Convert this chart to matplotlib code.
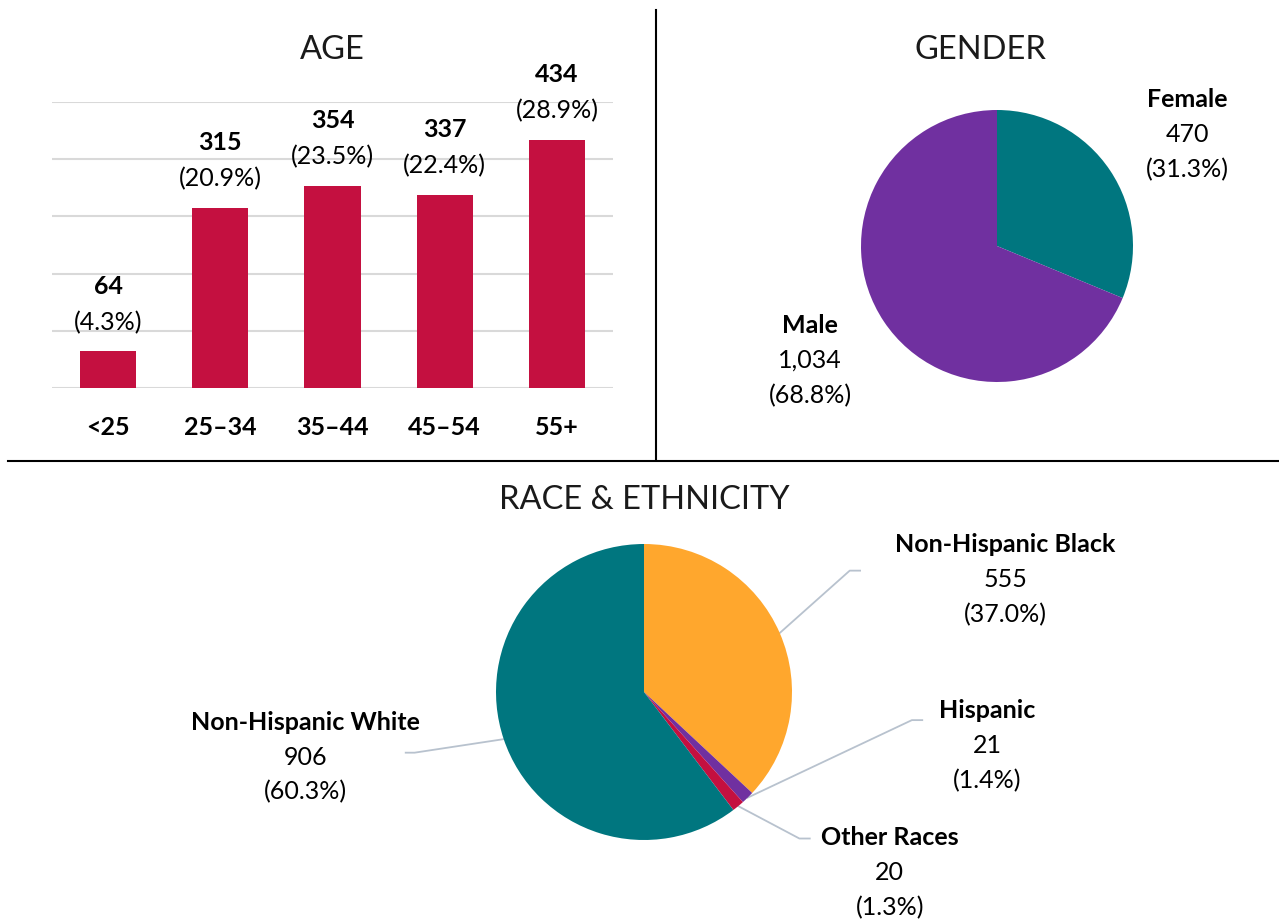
import numpy as np
import matplotlib
matplotlib.use("Agg")
import matplotlib.pyplot as plt
from matplotlib.lines import Line2D

plt.rcParams['font.family'] = ['Lato', 'DejaVu Sans']

# --- data ---
age_groups = ["<25", "25\u201334", "35\u201344", "45\u201354", "55+"]
age_counts = [64, 315, 354, 337, 434]
age_pcts = ["4.3%", "20.9%", "23.5%", "22.4%", "28.9%"]

gender_labels = ["Female", "Male"]
gender_counts = [470, 1034]
gender_pcts = ["31.3%", "68.8%"]

race_labels = ["Non-Hispanic Black", "Hispanic", "Other Races", "Non-Hispanic White"]
race_counts = [555, 21, 20, 906]
race_pcts = ["37.0%", "1.4%", "1.3%", "60.3%"]

CRIMSON = "#C41040"
TEAL = "#00767F"
PURPLE = "#7030A0"
ORANGE = "#FFA72D"
GRID = "#D9D9D9"
LEADER = "#B8C2CE"
FS = 18
W, H = 1279, 922


def px_axes(fig, x0, y0, x1, y1):
    # pixel box (top-left origin) -> axes
    return fig.add_axes([x0 / W, 1 - y1 / H, (x1 - x0) / W, (y1 - y0) / H])


def label3(ax, x, y, name, count, pct, step):
    ax.text(x, y + step, name, ha="center", va="center", fontsize=FS, fontweight="bold", clip_on=False)
    ax.text(x, y, count, ha="center", va="center", fontsize=FS, clip_on=False)
    ax.text(x, y - step, f"({pct})", ha="center", va="center", fontsize=FS, clip_on=False)


fig = plt.figure(figsize=(W / 100, H / 100), dpi=100)

# --- AGE bars ---
ax = px_axes(fig, 52, 102, 613, 388)
x = np.arange(len(age_groups))
ax.bar(x, age_counts, width=0.5, color=CRIMSON, zorder=3)
ax.set_ylim(0, 500)
ax.set_xlim(-0.5, len(age_groups) - 0.5)
ax.set_yticks(np.arange(0, 501, 100))
ax.yaxis.grid(True, color=GRID, lw=1.5, zorder=0)
ax.tick_params(axis="y", length=0, labelleft=False)
ax.tick_params(axis="x", length=0, pad=20)
ax.set_xticks(x)
ax.set_xticklabels(age_groups, fontsize=FS, fontweight="bold")
for s in ax.spines.values():
    s.set_visible(False)
for i, (v, p) in enumerate(zip(age_counts, age_pcts)):
    ax.annotate(f"({p})", (i, v), xytext=(0, 21), textcoords="offset points",
                ha="center", va="center", fontsize=FS)
    ax.annotate(f"{v}", (i, v), xytext=(0, 47), textcoords="offset points",
                ha="center", va="center", fontsize=FS, fontweight="bold")

# --- GENDER pie ---
r = 136
cx, cy = 997, 246
gx = px_axes(fig, cx - r, cy - r, cx + r, cy + r)
gx.pie(gender_counts, colors=[TEAL, PURPLE], startangle=90, counterclock=False, radius=1)
gx.set_xlim(-1, 1); gx.set_ylim(-1, 1)
gx.set_aspect("equal")
step = 35 / r
label3(gx, 1.40, 0.82, gender_labels[0], f"{gender_counts[0]:,}", gender_pcts[0], step)
label3(gx, -1.375, -0.84, gender_labels[1], f"{gender_counts[1]:,}", gender_pcts[1], step)

# --- RACE pie ---
r = 148
cx, cy = 644, 692
rx = px_axes(fig, cx - r, cy - r, cx + r, cy + r)
wedges, _ = rx.pie(race_counts, colors=[ORANGE, PURPLE, CRIMSON, TEAL], startangle=90,
                   counterclock=False, radius=1)
rx.set_xlim(-1, 1); rx.set_ylim(-1, 1)
rx.set_aspect("equal")
step = 35 / r
# (label centre, elbow, end of horizontal tail) in pie units
race_layout = [
    ((2.44, 0.757), (1.39, 0.82), 1.46),
    ((2.32, -0.36), (1.81, -0.19), 1.88),
    ((1.66, -1.22), (1.05, -0.99), 1.12),
    ((-2.29, -0.44), (-1.55, -0.41), -1.61),
]
for w, name, c, p, (lab, elbow, tail) in zip(wedges, race_labels, race_counts, race_pcts, race_layout):
    ang = np.deg2rad((w.theta1 + w.theta2) / 2)
    sx, sy = np.cos(ang), np.sin(ang)
    rx.add_line(Line2D([sx, elbow[0], tail], [sy, elbow[1], elbow[1]], color=LEADER, lw=1.3,
                       clip_on=False, zorder=0))
    label3(rx, lab[0], lab[1], name, f"{c:,}", p, step)

# --- titles ---
tkw = dict(ha="center", va="center", fontsize=23.5, fontweight="normal", color="#1a1a1a")
fig.text(332 / W, 1 - 50 / H, "AGE", **tkw)
fig.text(980 / W, 1 - 50 / H, "GENDER", **tkw)
fig.text(644 / W, 1 - 500 / H, "RACE & ETHNICITY", **tkw)

# --- dividers ---
fig.add_artist(Line2D([656 / W, 656 / W], [1 - 10 / H, 1 - 460 / H], color="black", lw=1.5))
fig.add_artist(Line2D([8 / W, 1], [1 - 461 / H, 1 - 461 / H], color="black", lw=1.5))

fig.savefig("out.png", dpi=100)
